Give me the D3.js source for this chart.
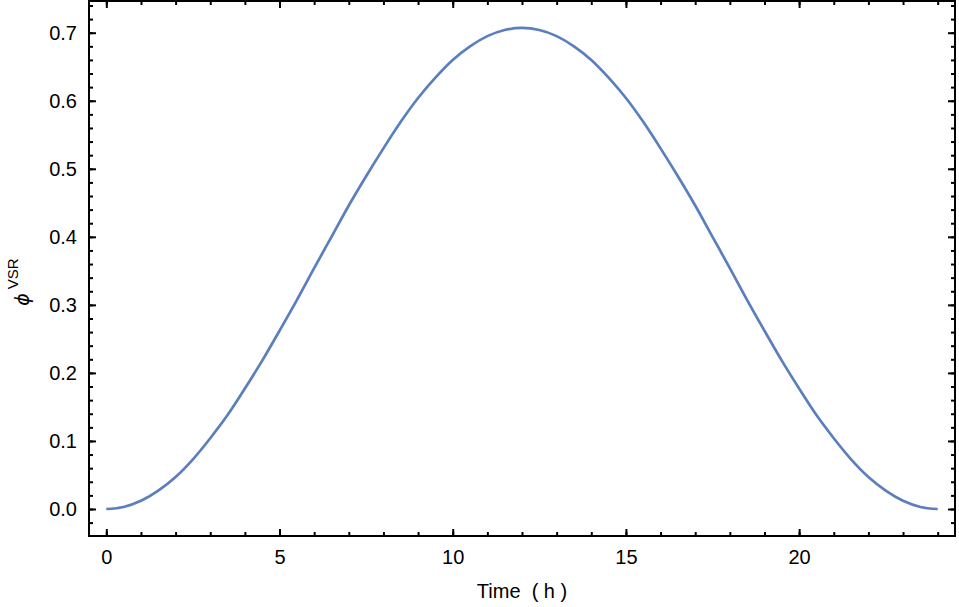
<!DOCTYPE html>
<html>
<head>
<meta charset="utf-8">
<script src="https://cdn.jsdelivr.net/npm/d3@7/dist/d3.min.js"></script>
<style>
  html, body { margin: 0; padding: 0; background: #fff; }
  svg { display: block; font-family: "Liberation Sans", Arial, sans-serif; }
</style>
</head>
<body>
<svg id="chart" width="959" height="607"></svg>
<script>
// ---- data ----
const timeHours = [0,0.5,1,1.5,2,2.5,3,3.5,4,4.5,5,5.5,6,6.5,7,7.5,8,8.5,9,9.5,10,10.5,11,11.5,12,
                   12.5,13,13.5,14,14.5,15,15.5,16,16.5,17,17.5,18,18.5,19,19.5,20,20.5,21,21.5,22,22.5,23,23.5,24];
const phiVSR = [0.000,0.003,0.012,0.027,0.047,0.073,0.104,0.138,0.177,0.218,0.262,0.307,0.354,0.400,0.446,0.489,0.530,0.569,0.604,0.634,0.660,0.680,0.695,0.704,0.707,
                0.704,0.695,0.680,0.660,0.634,0.604,0.569,0.530,0.489,0.446,0.400,0.354,0.307,0.262,0.218,0.177,0.138,0.104,0.073,0.047,0.027,0.012,0.003,0.000];
const xMajorTicks = [0,5,10,15,20];
const xMinorTicks = d3.range(0,25,1);
const yMajorTicks = [0,0.1,0.2,0.3,0.4,0.5,0.6,0.7];
const yMinorTicks = d3.range(-2,38,1).map(d => +(d*0.02).toFixed(2));

const svg = d3.select("#chart");
const L = 89, R = 955, T = 1, B = 536;

const x = d3.scaleLinear().domain([-0.5, 24.5]).range([L, R]);
const y = d3.scaleLinear().domain([-0.0397, 0.7466]).range([B, T]);

const fs = 20;
function styleAxis(g) {
  g.select(".domain").remove();
  g.selectAll("line").attr("stroke", "#000").attr("stroke-width", 2);
  g.selectAll("text").attr("fill", "#000").style("font-size", fs + "px")
   .style("font-family", '"Liberation Sans", Arial, sans-serif');
}
const inY = v => v > y.domain()[0] && v < y.domain()[1];

// minor ticks
svg.append("g").attr("transform", `translate(0,${B})`)
  .call(d3.axisBottom(x).tickValues(xMinorTicks).tickSize(-4).tickFormat("")).call(styleAxis);
svg.append("g").attr("transform", `translate(0,${T})`)
  .call(d3.axisTop(x).tickValues(xMinorTicks).tickSize(-4).tickFormat("")).call(styleAxis);
svg.append("g").attr("transform", `translate(${L},0)`)
  .call(d3.axisLeft(y).tickValues(yMinorTicks.filter(inY)).tickSize(-4).tickFormat("")).call(styleAxis);
svg.append("g").attr("transform", `translate(${R},0)`)
  .call(d3.axisRight(y).tickValues(yMinorTicks.filter(inY)).tickSize(-4).tickFormat("")).call(styleAxis);

// major ticks
svg.append("g").attr("transform", `translate(0,${B})`)
  .call(d3.axisBottom(x).tickValues(xMajorTicks).tickSize(-7).tickPadding(14).tickFormat(d3.format("d"))).call(styleAxis);
svg.append("g").attr("transform", `translate(0,${T})`)
  .call(d3.axisTop(x).tickValues(xMajorTicks).tickSize(-7).tickFormat("")).call(styleAxis);
svg.append("g").attr("transform", `translate(${L},0)`)
  .call(d3.axisLeft(y).tickValues(yMajorTicks).tickSize(-7).tickPadding(12).tickFormat(d3.format(".1f"))).call(styleAxis);
svg.append("g").attr("transform", `translate(${R},0)`)
  .call(d3.axisRight(y).tickValues(yMajorTicks).tickSize(-7).tickFormat("")).call(styleAxis);

// frame
svg.append("rect").attr("x", L).attr("y", T).attr("width", R - L).attr("height", B - T)
  .attr("fill", "none").attr("stroke", "#000").attr("stroke-width", 2);

// line
const line = d3.line().x((d, i) => x(timeHours[i])).y(d => y(d)).curve(d3.curveMonotoneX);
svg.append("path").datum(phiVSR).attr("d", line)
  .attr("fill", "none").attr("stroke", "#5b7fbd").attr("stroke-width", 2.7)
  .attr("stroke-linejoin", "round");

// axis labels
svg.append("text").attr("x", (L + R) / 2).attr("y", 598).attr("text-anchor", "middle")
  .style("font-size", fs + "px").style("white-space", "pre").attr("fill", "#000").text("Time  ( h )");

const yl = svg.append("text").attr("transform", "translate(29,282) rotate(-90)")
  .attr("text-anchor", "middle").attr("fill", "#000");
yl.append("tspan").style("font-style", "italic").style("font-size", "19px")
  .style("font-family", '"DejaVu Sans", sans-serif').text("ϕ");
yl.append("tspan").attr("dx", 4).attr("dy", -11).style("font-size", "15px").text("VSR");
</script>
</body>
</html>
